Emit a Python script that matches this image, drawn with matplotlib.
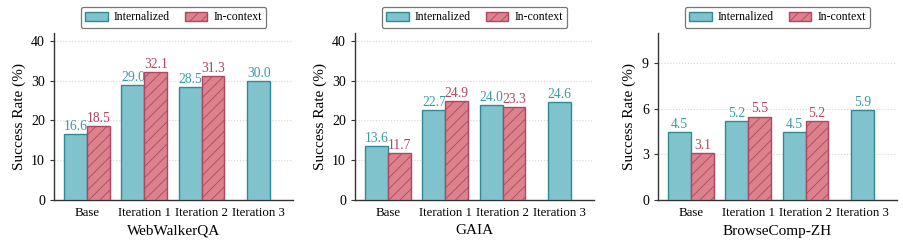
import matplotlib
matplotlib.use("Agg")
import matplotlib.pyplot as plt
import numpy as np

plt.rcParams['font.family'] = ['Liberation Serif', 'DejaVu Serif']
plt.rcParams['hatch.linewidth'] = 0.6

iterations = ['Base', 'Iteration 1', 'Iteration 2', 'Iteration 3']
benchmarks = ['WebWalkerQA', 'GAIA', 'BrowseComp-ZH']

internalized = {
    'WebWalkerQA': [16.6, 29.0, 28.5, 30.0],
    'GAIA': [13.6, 22.7, 24.0, 24.6],
    'BrowseComp-ZH': [4.5, 5.2, 4.5, 5.9],
}
in_context = {
    'WebWalkerQA': [18.5, 32.1, 31.3],
    'GAIA': [11.7, 24.9, 23.3],
    'BrowseComp-ZH': [3.1, 5.5, 5.2],
}
ylims = {'WebWalkerQA': 42, 'GAIA': 42, 'BrowseComp-ZH': 11}
yticks = {'WebWalkerQA': [0, 10, 20, 30, 40], 'GAIA': [0, 10, 20, 30, 40],
          'BrowseComp-ZH': [0, 3, 6, 9]}

teal = '#80c3cd'
teal_edge = '#2e8b95'
teal_txt = '#3a9aa3'
red = '#dc828c'
red_edge = '#b04660'
red_txt = '#b04660'

fig = plt.figure(figsize=(9.04, 2.46), dpi=100)
lefts = [54, 355, 658]
w = 0.4

for name, lx in zip(benchmarks, lefts):
    ax = fig.add_axes([lx / 904, 1 - 200 / 246, 239 / 904, 167 / 246])
    x = np.arange(len(iterations))
    vin = internalized[name]
    vic = in_context[name]
    pos_in = [i - w / 2 if i < len(vic) else i for i in x]
    ax.bar(pos_in, vin, w, color=teal, edgecolor=teal_edge, linewidth=1.0,
           label='Internalized', zorder=3)
    ax.bar(x[:len(vic)] + w / 2, vic, w, color=red, edgecolor=red_edge,
           linewidth=1.0, hatch='///', label='In-context', zorder=3)
    off = ylims[name] * 0.006
    for p, v in zip(pos_in, vin):
        ax.text(p, v + off, f'{v:.1f}', ha='center', va='bottom',
                color=teal_txt, fontsize=9.8)
    for p, v in zip(x[:len(vic)] + w / 2, vic):
        ax.text(p, v + off, f'{v:.1f}', ha='center', va='bottom',
                color=red_txt, fontsize=9.8)
    ax.set_xlim(-0.58, 3.6)
    ax.set_ylim(0, ylims[name])
    ax.set_yticks(yticks[name])
    ax.set_xticks(x)
    ax.set_xticklabels(iterations, fontsize=9.3)
    ax.tick_params(axis='x', length=0, pad=5)
    ax.tick_params(axis='y', labelsize=10, length=3, width=0.8, color='#333333')
    ax.set_ylabel('Success Rate (%)', fontsize=11)
    ax.set_xlabel(name, fontsize=11, labelpad=4)
    ax.grid(axis='y', linestyle=':', color='#d5d5d5', linewidth=0.8, zorder=0)
    for s in ['top', 'right']:
        ax.spines[s].set_visible(False)
    for s in ['left', 'bottom']:
        ax.spines[s].set_color('#333333')
        ax.spines[s].set_linewidth(1.0)
    leg = ax.legend(loc='lower center', bbox_to_anchor=(0.5, 1.03), ncol=2,
                    fontsize=8.5, frameon=True, fancybox=True,
                    handlelength=1.9, handleheight=0.8, handletextpad=0.5,
                    columnspacing=1.3, borderpad=0.4, borderaxespad=0)
    leg.get_frame().set_edgecolor('#555555')
    leg.get_frame().set_linewidth(0.9)

fig.savefig('out.png', dpi=100)
